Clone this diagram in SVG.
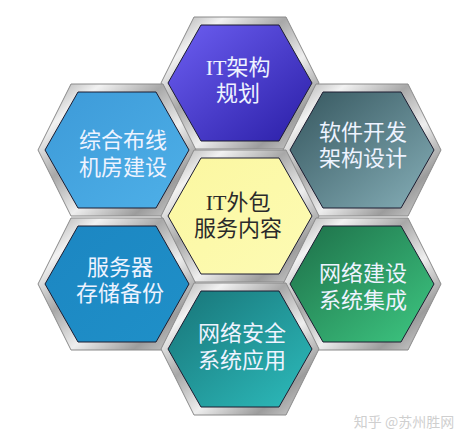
<svg xmlns="http://www.w3.org/2000/svg" xmlns:xlink="http://www.w3.org/1999/xlink" width="466" height="441" viewBox="0 0 466 441">
<defs>
<linearGradient id="silver" x1="0" y1="0" x2="1" y2="1">
<stop offset="0" stop-color="#9a9a9a"/>
<stop offset="0.2" stop-color="#f2f2f2"/>
<stop offset="0.4" stop-color="#a8a8a8"/>
<stop offset="0.6" stop-color="#eeeeee"/>
<stop offset="0.8" stop-color="#9c9c9c"/>
<stop offset="1" stop-color="#e0e0e0"/>
</linearGradient>
<linearGradient id="gTop" x1="0" y1="0" x2="1" y2="1"><stop offset="0" stop-color="#6d5ff2"/><stop offset="1" stop-color="#2a1ea6"/></linearGradient>
<linearGradient id="gUL" x1="0" y1="0" x2="1" y2="1"><stop offset="0" stop-color="#3d9ad8"/><stop offset="1" stop-color="#4eb0e8"/></linearGradient>
<linearGradient id="gUR" x1="0" y1="0" x2="1" y2="1"><stop offset="0" stop-color="#35565e"/><stop offset="1" stop-color="#86afb8"/></linearGradient>
<linearGradient id="gC" x1="0" y1="0" x2="1" y2="1"><stop offset="0" stop-color="#fbf7a0"/><stop offset="1" stop-color="#fdfbb4"/></linearGradient>
<linearGradient id="gLL" x1="0" y1="0" x2="1" y2="1"><stop offset="0" stop-color="#1c86c2"/><stop offset="1" stop-color="#1f90c8"/></linearGradient>
<linearGradient id="gLR" x1="0" y1="0" x2="1" y2="1"><stop offset="0" stop-color="#1d6e48"/><stop offset="1" stop-color="#3ec882"/></linearGradient>
<linearGradient id="gB" x1="0" y1="0" x2="1" y2="1"><stop offset="0" stop-color="#187478"/><stop offset="1" stop-color="#2dbcbc"/></linearGradient>
<polygon id="outer" points="-79,0 -46,-66 46,-66 79,0 46,66 -46,66"/>
<polygon id="inner" points="-72,0 -39,-58 39,-58 72,0 39,58 -39,58"/>
</defs>
<style>
.frame{fill:url(#silver);stroke:#8a8a8a;stroke-width:1}
.core{stroke:#1c1c30;stroke-width:1}
text{font-family:"Liberation Serif","Noto Sans CJK SC",serif;font-size:22px;text-anchor:middle}
.lt{fill:#eef3ff}
.dk{fill:#2a2a2a}
</style>
<rect width="466" height="441" fill="#ffffff"/>
<g id="connectors"/>
<g id="node-top" transform="translate(240,83)">
<use xlink:href="#outer" class="frame"/>
<use xlink:href="#inner" class="core" fill="url(#gTop)"/>
<text class="lt" x="-2" y="-8">IT架构</text>
<text class="lt" x="-2" y="18">规划</text>
</g>
<g id="node-ul" transform="translate(117,150)">
<use xlink:href="#outer" class="frame"/>
<use xlink:href="#inner" class="core" fill="url(#gUL)"/>
<text class="lt" x="6" y="-2">综合布线</text>
<text class="lt" x="6" y="25">机房建设</text>
</g>
<g id="node-ur" transform="translate(362,150)">
<use xlink:href="#outer" class="frame"/>
<use xlink:href="#inner" class="core" fill="url(#gUR)"/>
<text class="lt" x="1" y="-10">软件开发</text>
<text class="lt" x="1" y="16">架构设计</text>
</g>
<g id="node-center" transform="translate(240,216)">
<use xlink:href="#outer" class="frame"/>
<use xlink:href="#inner" class="core" fill="url(#gC)"/>
<text class="dk" x="-2" y="-6">IT外包</text>
<text class="dk" x="-2" y="20">服务内容</text>
</g>
<g id="node-ll" transform="translate(117,284)">
<use xlink:href="#outer" class="frame"/>
<use xlink:href="#inner" class="core" fill="url(#gLL)"/>
<text class="lt" x="3" y="-9">服务器</text>
<text class="lt" x="3" y="17">存储备份</text>
</g>
<g id="node-lr" transform="translate(362,284)">
<use xlink:href="#outer" class="frame"/>
<use xlink:href="#inner" class="core" fill="url(#gLR)"/>
<text class="lt" x="1" y="-3">网络建设</text>
<text class="lt" x="1" y="24">系统集成</text>
</g>
<g id="node-bottom" transform="translate(240,349)">
<use xlink:href="#outer" class="frame"/>
<use xlink:href="#inner" class="core" fill="url(#gB)"/>
<text class="lt" x="2" y="-8">网络安全</text>
<text class="lt" x="2" y="19">系统应用</text>
</g>
<text x="404" y="427" style="font-family:'Noto Sans CJK SC',sans-serif;font-size:14px;fill:#cfcfcf">知乎 @苏州胜网</text>
</svg>
